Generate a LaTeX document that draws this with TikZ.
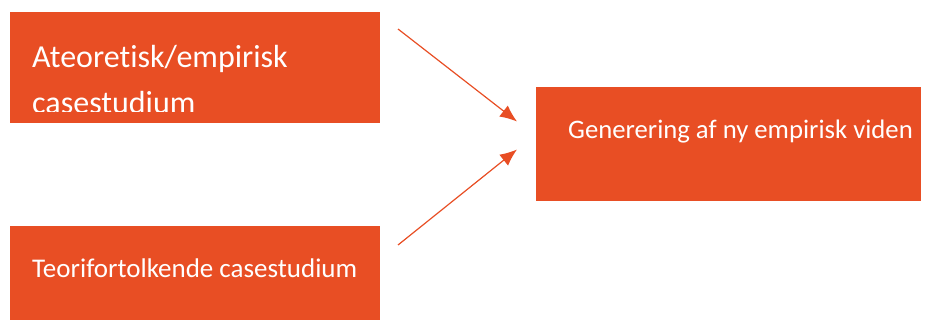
\documentclass[tikz,border=0pt]{standalone}
\usepackage{fontspec}
\setmainfont[Ligatures=NoCommon]{Carlito}
\usetikzlibrary{arrows.meta, positioning}
\definecolor{caseorange}{RGB}{232,78,36}
\tikzset{
  casebox/.style = {fill=caseorange, inner sep=0, outer sep=0},
  casetext/.style = {text=white, inner sep=0, anchor=base west},
  casearrow/.style = {draw=caseorange, line width=1.2pt, -{Latex[length=17pt,width=14pt]}},
}

\begin{document}
\begin{tikzpicture}[x=1pt, y=-1pt]
        \useasboundingbox (0,0) rectangle (929,320);
        % the three boxes
        \node (ateo) [casebox, minimum width=370pt, minimum height=111pt] at (195,67.5) {};
        \node (teori) [casebox, minimum width=370pt, minimum height=94pt] at (195,273) {};
        \node (gen) [casebox, minimum width=385pt, minimum height=114pt] at (728.5,144.5) {};

        % texts, the first one cut off at the bottom
        \begin{scope}
          \clip (ateo.north west) rectangle ([yshift=11pt]ateo.south east);
          \node (ateoA) [casetext, font=\fontsize{32}{44}\selectfont] at ([xshift=22pt,yshift=-56pt]ateo.north west) {Ateoretisk/empirisk};
          \node (ateoB) [casetext, font=\fontsize{32}{44}\selectfont] at ([yshift=-46pt]ateoA.base west) {casestudium};
        \end{scope}
        \node (teoriT) [casetext, font=\fontsize{27}{30}\selectfont] at ([xshift=22pt,yshift=-52pt]teori.north west) {Teorifortolkende casestudium};
        \node (genT) [casetext, font=\fontsize{26.7}{30}\selectfont] at ([xshift=32pt,yshift=-51pt]gen.north west) {Generering af ny empirisk viden};

        % connectors
        \coordinate (ateoOut) at ([xshift=18pt,yshift=-17pt]ateo.north east);
        \coordinate (teoriOut) at ([xshift=18pt,yshift=-19pt]teori.north east);
        \coordinate (genInA) at ([xshift=-19pt,yshift=-34pt]gen.north west);
        \coordinate (genInB) at ([xshift=-19pt,yshift=-62pt]gen.north west);
        \draw [casearrow] (ateoOut) -- (genInA);
        \draw [casearrow] (teoriOut) -- (genInB);
      \end{tikzpicture}
\end{document}
